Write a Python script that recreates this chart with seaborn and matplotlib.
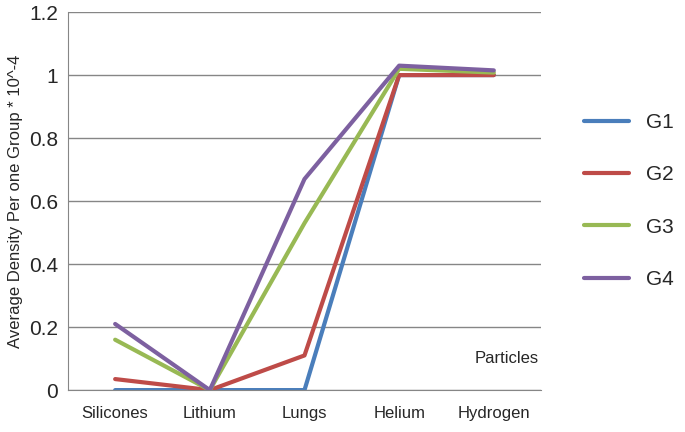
import pandas as pd
import matplotlib
matplotlib.use("Agg")
import matplotlib.pyplot as plt
import seaborn as sns

categories = ["Silicones", "Lithium", "Lungs", "Helium", "Hydrogen"]
g1 = [0.0, 0.0, 0.0, 1.0, 1.0]
g2 = [0.035, 0.0, 0.11, 1.0, 1.0]
g3 = [0.16, 0.0, 0.53, 1.02, 1.008]
g4 = [0.21, 0.0, 0.67, 1.03, 1.015]
series = {"G1": g1, "G2": g2, "G3": g3, "G4": g4}
colors = ["#4a7ebb", "#be4b48", "#98b954", "#7d60a0"]

sns.set_style("white")
plt.rcParams["font.family"] = ["Liberation Sans", "DejaVu Sans"]

rows = []
for name, vals in series.items():
    for i, v in enumerate(vals):
        rows.append({"x": i, "val": v, "group": name})
df = pd.DataFrame(rows)

fig, ax = plt.subplots(figsize=(6.85, 4.32), dpi=100)
fig.subplots_adjust(left=0.099, right=0.79, top=0.972, bottom=0.097)
sns.lineplot(data=df, x="x", y="val", hue="group", palette=colors, linewidth=3, ax=ax)

ax.set_xlim(-0.5, 4.5)
ax.set_ylim(0, 1.2)
ax.set_yticks([0, 0.2, 0.4, 0.6, 0.8, 1.0, 1.2])
ax.set_yticklabels(["0", "0.2", "0.4", "0.6", "0.8", "1", "1.2"], fontsize=15)
ax.set_xticks(range(len(categories)))
ax.set_xticklabels(categories, fontsize=12)
ax.tick_params(axis="x", pad=8)
ax.yaxis.grid(True, color="#868686", linewidth=1)
for s in ["top", "right"]:
    ax.spines[s].set_visible(False)
ax.spines["left"].set_color("#868686")
ax.spines["bottom"].set_color("#868686")
ax.set_xlabel("")
ax.set_ylabel("Average Density Per one Group * 10^-4", fontsize=12)
ax.text(4.47, 0.1, "Particles", fontsize=12, ha="right", va="center")

ax.legend(loc="center left", bbox_to_anchor=(1.05, 0.5), frameon=False,
          fontsize=15, handlelength=2.2, labelspacing=1.6)
fig.savefig("out.png", dpi=100)
